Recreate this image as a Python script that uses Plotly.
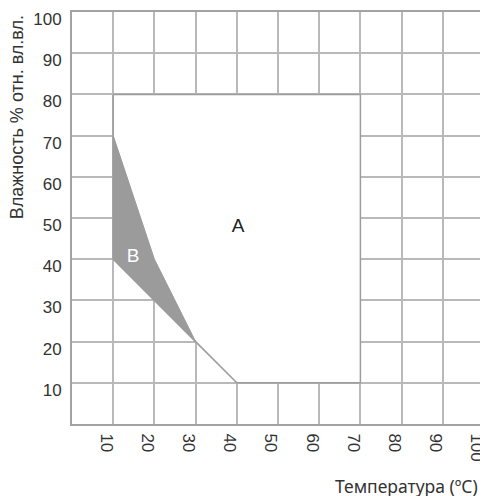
import plotly.graph_objects as go

# Data
ticks = [10, 20, 30, 40, 50, 60, 70, 80, 90, 100]
region_a_x = [10, 70, 70, 40, 30, 10, 10]
region_a_y = [80, 80, 10, 10, 20, 40, 80]
region_b_x = [10, 20, 30, 10, 10]
region_b_y = [70, 40, 20, 40, 70]
labels = ["A", "B"]
label_x = [40.3, 14.8]
label_y = [47.8, 40.5]

LINE = "#a3a3a3"
GRID = "#b9b9b9"
FONT = "Liberation Sans, Arial, sans-serif"

fig = go.Figure()
fig.add_trace(go.Scatter(x=region_a_x, y=region_a_y, mode="lines", fill="toself",
                         fillcolor="white", line=dict(color="#9c9c9c", width=1.5),
                         hoverinfo="skip", showlegend=False))
fig.add_trace(go.Scatter(x=region_b_x, y=region_b_y, mode="lines", fill="toself",
                         fillcolor="#9b9b9b", line=dict(color="#9b9b9b", width=1),
                         hoverinfo="skip", showlegend=False))
fig.add_trace(go.Scatter(x=label_x, y=label_y, mode="text", text=labels,
                         textfont=dict(family=FONT, size=19, color=["#222222", "white"]),
                         hoverinfo="skip", showlegend=False))

# the page body adds an 8px margin, so the figure is 480x488 with matching margins
fig.update_layout(
    width=480, height=488,
    margin=dict(l=64, r=4, t=4, b=72, autoexpand=False),
    plot_bgcolor="white", paper_bgcolor="white",
    showlegend=False,
    xaxis=dict(range=[0, 100], tickvals=ticks, ticktext=[str(t) for t in ticks],
               tickangle=90, showgrid=True, gridcolor=GRID, gridwidth=1.5,
               showline=True, linecolor=LINE, linewidth=2, mirror=True,
               zeroline=False, ticks="", ticklabelstandoff=4, ticklabelshift=-7,
               automargin=False, ticklabeloverflow="allow",
               tickfont=dict(family=FONT, size=17, color="#333333"), fixedrange=True),
    yaxis=dict(range=[0, 100], tickvals=ticks, ticktext=[str(t) for t in ticks],
               showgrid=True, gridcolor=GRID, gridwidth=1.5,
               showline=True, linecolor=LINE, linewidth=2, mirror=True,
               zeroline=False, ticks="", ticklabelstandoff=5, ticklabelshift=7,
               automargin=False, ticklabeloverflow="allow",
               tickfont=dict(family=FONT, size=17, color="#333333"), fixedrange=True),
    annotations=[
        dict(text="Температура (ºC)", xref="paper", yref="paper", x=0.99, y=-0.151,
             xanchor="right", yanchor="middle", showarrow=False,
             font=dict(family="Noto Sans, sans-serif", size=17.5, color="#333333")),
        dict(text="Влажность % отн. вл.вл.", xref="paper", yref="paper", x=-0.133, y=0.745,
             xanchor="center", yanchor="middle", textangle=-90, showarrow=False,
             font=dict(family=FONT, size=18, color="#333333")),
    ],
)

fig.write_html("out.html")
